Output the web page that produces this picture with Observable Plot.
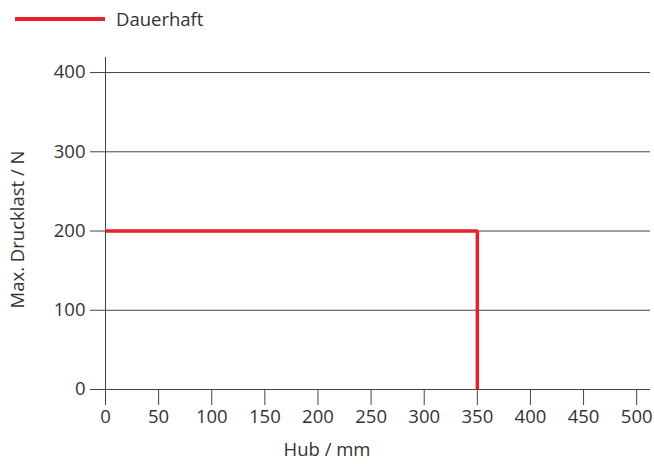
<!DOCTYPE html>
<html>
<head>
<meta charset="utf-8">
<script src="https://cdn.jsdelivr.net/npm/d3@7"></script>
<script src="https://cdn.jsdelivr.net/npm/@observablehq/plot@0.6"></script>
<style>
  body { margin: 0; background: #fff; font-family: "Open Sans", "Noto Sans", sans-serif; }
  #legend { height: 40px; position: relative; }
  #legend .sw { position: absolute; left: 15px; top: 17px; width: 90px; height: 4px; background: #e8202a; }
  #legend .lb { position: absolute; left: 116px; top: 6px; font-size: 18.5px; color: #333; }
  svg { display: block; }
</style>
</head>
<body>
<div id="legend"><div class="sw"></div><div class="lb">Dauerhaft</div></div>
<div id="chart"></div>
<script>
const seriesName = "Dauerhaft";
const hub = [0, 350, 350];
const drucklast = [200, 200, 0];
const xTicks = [0, 50, 100, 150, 200, 250, 300, 350, 400, 450, 500];
const yTicks = [0, 100, 200, 300, 400];
const xLabel = "Hub / mm";
const yLabel = "Max. Drucklast / N";

const pts = hub.map((x, i) => ({x, y: drucklast[i]}));
const axisColor = "#444";

const chart = Plot.plot({
  width: 654,
  height: 424,
  marginLeft: 105,
  marginRight: 4,
  marginTop: 17,
  marginBottom: 75,
  style: {fontFamily: "'Open Sans', 'Noto Sans', sans-serif", fontSize: "18.5px", color: "#333", background: "#fff"},
  x: {domain: [0, 513], ticks: xTicks, tickSize: 16, tickPadding: 4, label: null},
  y: {domain: [0, 419], ticks: yTicks, tickSize: 15, tickPadding: 5, label: null},
  marks: [
    Plot.ruleY(yTicks, {stroke: axisColor, strokeWidth: 1}),
    Plot.ruleX([0], {stroke: axisColor, strokeWidth: 1}),
    Plot.axisX({ticks: xTicks, tickSize: 16, tickPadding: 4, stroke: axisColor, fill: "#333", fontSize: 18.5, label: null}),
    Plot.axisY({ticks: yTicks, tickSize: 15, tickPadding: 5, stroke: axisColor, fill: "#333", fontSize: 18.5, label: null}),
    Plot.line(pts, {x: "x", y: "y", stroke: "#e8202a", strokeWidth: 3.5, strokeLinejoin: "miter", strokeLinecap: "butt"}),
    Plot.text([xLabel], {frameAnchor: "bottom", dx: -51, dy: 66, fill: "#333", fontSize: 18.5}),
    Plot.text([yLabel], {frameAnchor: "left", textAnchor: "middle", dx: -87, dy: 6, rotate: -90, fill: "#333", fontSize: 18.5})
  ]
});
document.getElementById("chart").appendChild(chart);
</script>
</body>
</html>
